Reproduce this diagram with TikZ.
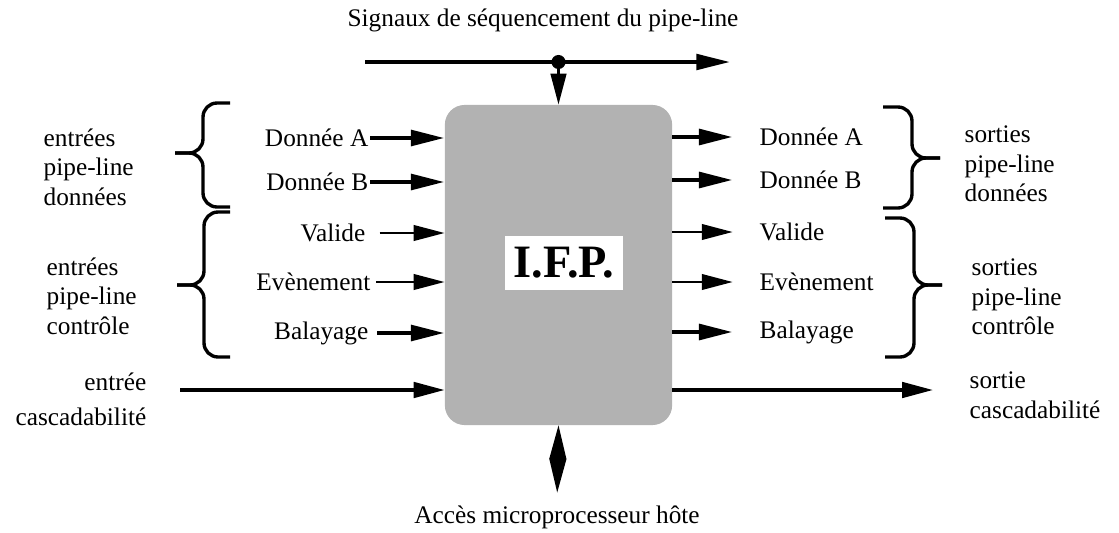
\documentclass[tikz,border=0pt]{standalone}
\usepackage{fontspec}
\setmainfont{Liberation Serif}
\usetikzlibrary{arrows.meta,positioning,calc}

\begin{document}
\begin{tikzpicture}[x=0.025cm,y=-0.025cm,>=Latex,
  txt/.style={font=\fontsize{18}{21}\selectfont,inner sep=1pt},
  grp/.style={txt,align=left},
  fort/.style={-{Triangle[length=24pt,width=11pt]},line width=3.2pt},
  fin/.style={-{Triangle[length=22pt,width=11pt]},line width=1.8pt},
  accolade/.style={rounded corners=10pt,line width=2.4pt}]
  \useasboundingbox (0,0) rectangle (1119,533);

  % bloc central
  \node[fill=black!30,rounded corners=14pt,minimum width=5.68cm,minimum height=8cm,inner sep=0pt] (ifp) at (558.5,265) {};
  \node[fill=white,font=\bfseries\fontsize{33}{36}\selectfont,inner sep=0pt,minimum width=2.95cm,minimum height=1.35cm] (nom) at (564,263) {I.F.P.};

  % sequencement
  \node[txt] (titre) at (543,20) {Signaux de séquencement du pipe-line};
  \coordinate (seqA) at (365,62);
  \coordinate (seqB) at (730,62);
  \coordinate (noeud) at (ifp.north |- seqA);
  \draw[fort,line width=2.8pt] (seqA) -- (seqB);
  \fill (noeud) circle[radius=5pt];
  \draw[fin,line width=2pt] (noeud) -- (ifp.north);

  % entrees
  \node[txt,anchor=east] (eA) at (370,138) {Donnée A};
  \node[txt,anchor=east] (eB) at (370,182) {Donnée B};
  \node[txt,anchor=east] (eV) at (367,233) {Valide};
  \node[txt,anchor=east] (eE) at (372,282) {Evènement};
  \node[txt,anchor=east] (eL) at (370,333) {Balayage};
  \draw[fort] (eA.east) -- (eA.east -| ifp.west);
  \draw[fort] (eB.east) -- (eB.east -| ifp.west);
  \draw[fin] ([xshift=9pt]eV.east) -- (eV.east -| ifp.west);
  \draw[fin] ([xshift=3pt]eE.east) -- (eE.east -| ifp.west);
  \draw[fort] ([xshift=5pt]eL.east) -- (eL.east -| ifp.west);

  % sorties
  \node[txt,anchor=west] (sA) at (758,137) {Donnée A};
  \node[txt,anchor=west] (sB) at (758,180) {Donnée B};
  \node[txt,anchor=west] (sV) at (758,232) {Valide};
  \node[txt,anchor=west] (sE) at (758,282) {Evènement};
  \node[txt,anchor=west] (sL) at (758,332) {Balayage};
  \draw[fort,shorten >=18pt] (sA.west -| ifp.east) -- (sA.west);
  \draw[fort,shorten >=18pt] (sB.west -| ifp.east) -- (sB.west);
  \draw[fin,shorten >=18pt] (sV.west -| ifp.east) -- (sV.west);
  \draw[fin,shorten >=18pt] (sE.west -| ifp.east) -- (sE.west);
  \draw[fort,shorten >=18pt] (sL.west -| ifp.east) -- (sL.west);

  % accolades
  \draw[accolade] (230,103) -- (203,103) -- (203,153) -- (175,153);
  \draw[accolade] (175,153) -- (203,153) -- (203,207) -- (230,207);
  \draw[accolade] (230,212) -- (204,212) -- (204,285) -- (177,285);
  \draw[accolade] (177,285) -- (204,285) -- (204,357) -- (230,357);
  \draw[accolade] (883,107) -- (912,107) -- (912,158) -- (940,158);
  \draw[accolade] (940,158) -- (912,158) -- (912,208) -- (883,208);
  \draw[accolade] (885,218) -- (914,218) -- (914,285) -- (942,285);
  \draw[accolade] (942,285) -- (914,285) -- (914,357) -- (885,357);
  \node[grp,anchor=west] (gED) at (42,167) {entrées\\pipe-line\\données};
  \node[grp,anchor=west] (gEC) at (45,296) {entrées\\pipe-line\\contrôle};
  \node[grp,anchor=west] (gSD) at (963,164) {sorties\\pipe-line\\données};
  \node[grp,anchor=west] (gSC) at (970,297) {sorties\\pipe-line\\contrôle};

  % cascadabilite
  \node[txt,align=right,anchor=east,font=\fontsize{18}{25}\selectfont] (cascE) at (148,399) {entrée\\cascadabilité};
  \node[txt,align=left,anchor=west] (cascS) at (968,395) {sortie\\cascadabilité};
  \coordinate (cascA) at (180,390);
  \coordinate (cascB) at (933,390);
  \draw[fin,line width=2.4pt] (cascA) -- (cascA -| ifp.west);
  \draw[fin,line width=2.4pt] (cascA -| ifp.east) -- (cascB);

  % acces hote
  \node[txt] (hote) at (557,517) {Accès microprocesseur hôte};
  \draw[{Triangle[length=24pt,width=12pt]}-{Triangle[length=24pt,width=12pt]},line width=1pt,shorten >=8pt] (ifp.south) -- (hote.north);
\end{tikzpicture}
\end{document}
